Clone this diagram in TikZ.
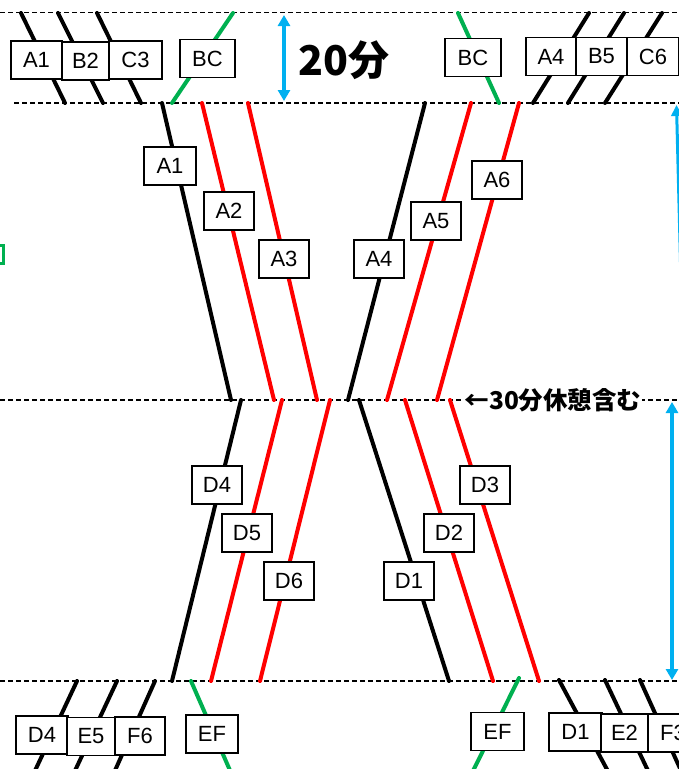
\documentclass[tikz,border=0pt]{standalone}
\usepackage{fontspec}
\setmainfont{Liberation Sans}
\newfontfamily\jp{Noto Sans CJK JP}
\usetikzlibrary{arrows.meta}
\definecolor{myblue}{RGB}{0,176,240}
\definecolor{mygreen}{RGB}{0,176,80}
\tikzset{
  dl/.style={dash pattern=on 5pt off 3pt, line width=1.4pt, black},
  trk/.style={line width=4pt, line cap=round},
  blk/.style={trk, black},
  rd/.style={trk, red},
  gr/.style={trk, mygreen},
  lbl/.style={draw, fill=white, line width=1.3pt, minimum width=50pt, minimum height=38pt, inner sep=0pt, font=\fontsize{22}{22}\selectfont},
  blu/.style={line width=3.5pt, myblue, {Triangle[length=11pt,width=12pt]}-{Triangle[length=11pt,width=12pt]}},
  blutop/.style={line width=3pt, myblue, {Triangle[length=11pt,width=11pt]}-}
}
\begin{document}
\begin{tikzpicture}[x=1pt,y=-1pt]
\useasboundingbox (0,0) rectangle (679,769);
\clip (0,0) rectangle (679,769);
\fill[white] (0,0) rectangle (679,769);
% dashed lines
\draw[dl] (0,12.5) -- (679,12.5);
\draw[dl] (14,103) -- (679,103);
\draw[dl] (0,400) -- (679,400);
\draw[dl] (0,681) -- (679,681);
% top-left short lines
\draw[blk] (21,13) -- (65,103);
\draw[blk] (58,13) -- (103,103);
\draw[blk] (97,13) -- (141,103);
\draw[gr] (233,13) -- (172,103);
% top-right short lines
\draw[gr] (458,13) -- (499,103);
\draw[blk] (589,13) -- (533,103);
\draw[blk] (624,13) -- (568,103);
\draw[blk] (662,13) -- (605,103);
% upper middle section
\draw[blk] (162,103) -- (231,400);
\draw[rd] (202,103) -- (274,400);
\draw[rd] (248,103) -- (317,400);
\draw[blk] (425,103) -- (348,400);
\draw[rd] (471,103) -- (387,400);
\draw[rd] (519,103) -- (437,400);
% lower middle section
\draw[blk] (241,400) -- (172,681);
\draw[rd] (282,400) -- (211,681);
\draw[rd] (330,400) -- (260,681);
\draw[blk] (359,400) -- (449,681);
\draw[rd] (405,400) -- (493,681);
\draw[rd] (450,400) -- (539,681);
% bottom-left short lines
\draw[blk] (77,681) -- (33,775);
\draw[blk] (117,681) -- (73,775);
\draw[blk] (155,681) -- (113,775);
\draw[gr] (191,681) -- (232,775);
% bottom-right short lines
\draw[gr] (519,678) -- (471,775);
\draw[blk] (559,680) -- (610,775);
\draw[blk] (605,680) -- (650,775);
\draw[blk] (640,680) -- (683,775);
% blue arrows
\draw[blu] (284,15) -- (284,101);
\draw[blu] (672,402) -- (672,680);
\draw[blutop] (676.5,105) -- (684,400);
% green mark at left edge
\draw[mygreen, line width=2.5pt] (0,245.5) -- (5,245.5) (3.5,245.5) -- (3.5,263.5) (0,263.5) -- (5,263.5);
% labels top
\node[lbl, minimum width=51pt] (tA1) at (36.5,60) {A1};
\node[lbl, minimum width=47pt] (tB2) at (85.5,61) {B2};
\node[lbl, minimum width=53pt] (tC3) at (135.5,60) {C3};
\node[lbl, minimum width=55pt] (tBCl) at (207.5,58.5) {BC};
\node[lbl, minimum width=56pt] (tBCr) at (473,57.5) {BC};
\node[lbl, minimum width=50pt] (tA4) at (551,56.5) {A4};
\node[lbl, minimum width=51pt] (tB5) at (601.5,56.5) {B5};
\node[lbl, minimum width=52pt] (tC6) at (653,56.5) {C6};
% labels middle
\node[lbl, minimum width=52pt] (mA1) at (170,166) {A1};
\node[lbl] (mA2) at (229,211) {A2};
\node[lbl] (mA3) at (284,259) {A3};
\node[lbl] (mA4) at (379,259) {A4};
\node[lbl] (mA5) at (436,221) {A5};
\node[lbl] (mA6) at (497,180) {A6};
\node[lbl] (mD4) at (217,485) {D4};
\node[lbl] (mD5) at (247,533) {D5};
\node[lbl] (mD6) at (289,581) {D6};
\node[lbl] (mD1) at (409,581) {D1};
\node[lbl] (mD2) at (449,533) {D2};
\node[lbl] (mD3) at (485,485) {D3};
% labels bottom
\node[lbl, minimum width=52pt] (bD4) at (42,735) {D4};
\node[lbl, minimum width=48pt] (bE5) at (91,736.5) {E5};
\node[lbl, minimum width=50pt] (bF6) at (140,736) {F6};
\node[lbl, minimum width=52pt] (bEFl) at (212,734) {EF};
\node[lbl, minimum width=53pt] (bEFr) at (497.5,731.5) {EF};
\node[lbl, minimum width=53pt] (bD1) at (575.5,732) {D1};
\node[lbl, minimum width=47pt] (bE2) at (624.5,733) {E2};
\node[lbl, minimum width=50pt] (bF3) at (673,733) {F3};
% texts
\node[font={\jp\bfseries\fontsize{41}{41}\selectfont}, inner sep=0pt] (t20) at (344,60) {20分};
\node[font={\jp\bfseries\fontsize{24.5}{24.5}\selectfont}, fill=white, inner sep=1pt] (t30) at (553,400) {←30分休憩含む};
\end{tikzpicture}
\end{document}
